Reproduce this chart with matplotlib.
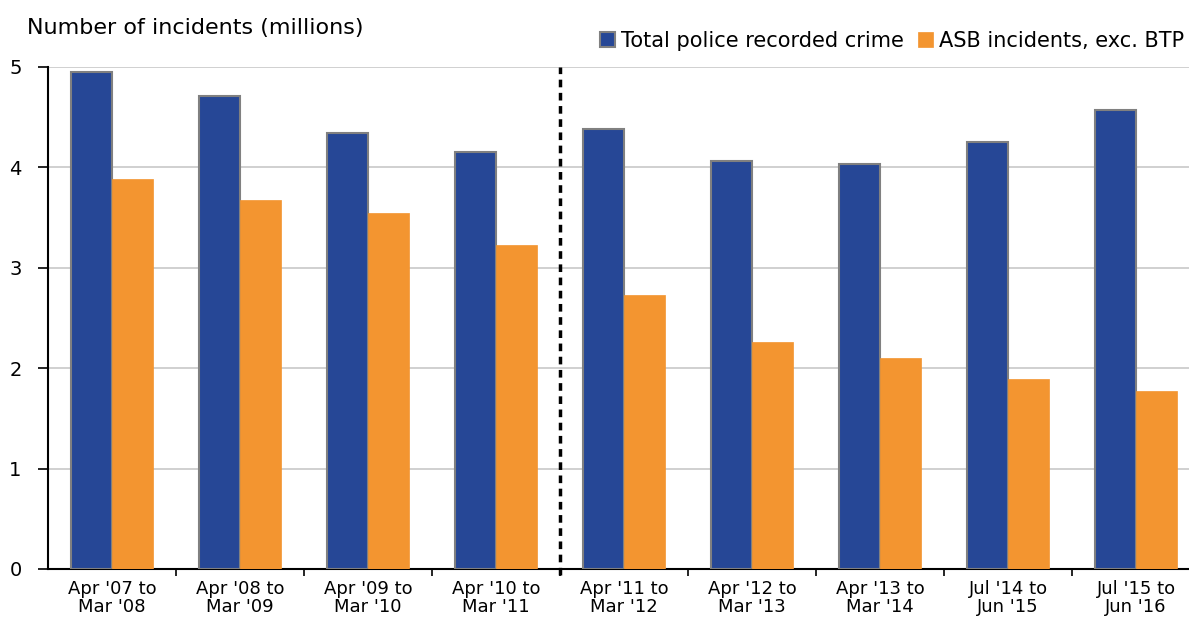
import matplotlib.pyplot as plt
import numpy as np

# Data
periods = ["Apr '07 to\nMar '08", "Apr '08 to\nMar '09", "Apr '09 to\nMar '10",
           "Apr '10 to\nMar '11", "Apr '11 to\nMar '12", "Apr '12 to\nMar '13",
           "Apr '13 to\nMar '14", "Jul '14 to\nJun '15", "Jul '15 to\nJun '16"]
police_crime = [4.95, 4.71, 4.34, 4.15, 4.38, 4.06, 4.03, 4.25, 4.57]
asb_incidents = [3.88, 3.68, 3.55, 3.23, 2.73, 2.26, 2.10, 1.89, 1.77]

plt.rcParams['font.family'] = ['DejaVu Sans']

blue = '#264796'
orange = '#F39530'

fig = plt.figure(figsize=(11.89, 6.19), dpi=100)
ax = fig.add_axes([48 / 1189, 50 / 619, 1 - 48 / 1189, 502 / 619])

x = np.arange(len(periods))
w = 0.32
ax.bar(x - w / 2, police_crime, w, color=blue, edgecolor='#808080', linewidth=1.5,
       label='Total police recorded crime', zorder=3)
ax.bar(x + w / 2, asb_incidents, w, color=orange, edgecolor=orange, linewidth=0.5,
       label='ASB incidents, exc. BTP', zorder=3)

# break in the series between Mar '11 and Apr '11
ax.axvline(3.5, ymin=-0.012, ymax=1, color='black', linestyle=(0, (2.2, 1.6)),
           linewidth=2.5, clip_on=False, zorder=4)

ax.set_xlim(-0.5, 8.5 - 11 / 128)
ax.set_ylim(0, 5)
ax.set_yticks(range(0, 6))
ax.yaxis.grid(True, color='#c8c8c8', linewidth=1.2, zorder=0)
ax.set_axisbelow(True)

ax.set_xticks(x)
ax.set_xticklabels(periods, fontsize=13, linespacing=1.0)
ax.set_xticks(np.arange(0.5, 8.5, 1), minor=True)
ax.tick_params(axis='x', which='major', length=0, pad=8)
ax.tick_params(axis='x', which='minor', length=5, width=1.2, direction='out')
ax.tick_params(axis='y', length=7, width=1.2, labelsize=14, pad=12)

for side in ['top', 'right']:
    ax.spines[side].set_visible(False)
ax.spines['left'].set_linewidth(1.5)
ax.spines['bottom'].set_linewidth(1.5)

fig.text(27 / 1189, 1 - 28 / 619, 'Number of incidents (millions)', fontsize=16,
         ha='left', va='center')

fig.legend(loc='center right', bbox_to_anchor=(1.003, 1 - 41 / 619), ncol=2,
           frameon=False, fontsize=15, handlelength=0.7, handleheight=0.7,
           handletextpad=0.3, columnspacing=0.7, borderaxespad=0)

plt.savefig('out.png', dpi=100)
